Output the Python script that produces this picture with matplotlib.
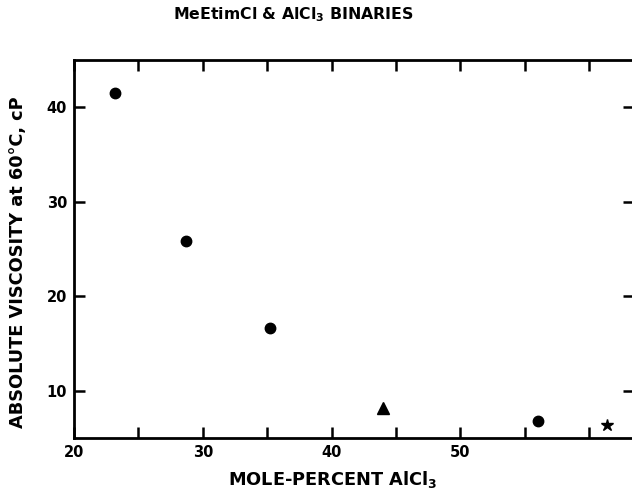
import matplotlib
matplotlib.use("Agg")
import matplotlib.pyplot as plt

# Data
circle_x = [23.2, 28.7, 35.2, 56.0]
circle_y = [41.5, 25.8, 16.6, 6.8]
triangle_x = [44.0]
triangle_y = [8.2]
star_x = [61.4]
star_y = [6.4]

x_major = [20, 25, 30, 35, 40, 45, 50, 55, 60]
x_labels = ["20", "", "30", "", "40", "", "50", "", ""]
y_major = [10, 20, 30, 40]
y_labels = ["10", "20", "30", "40"]

W, H = 632, 490
fig = plt.figure(figsize=(W / 100, H / 100), dpi=100)
left, right, top, bottom = 74, 634, 60, 438
ax = fig.add_axes([left / W, (H - bottom) / H, (right - left) / W, (bottom - top) / H])
ax.set_xlim(20, 20 + (right - 73) / 12.9)
ax.set_ylim(5, 45)

ax.plot(circle_x, circle_y, "o", color="black", markersize=7.5, linestyle="none")
ax.plot(triangle_x, triangle_y, "^", color="black", markersize=9, linestyle="none")
ax.plot(star_x, star_y, "*", color="black", markersize=9, linestyle="none")

ax.set_xticks(x_major)
ax.set_xticklabels(x_labels)
ax.set_yticks(y_major)
ax.set_yticklabels(y_labels)
ax.tick_params(direction="in", length=8, width=1.8, top=True, right=True,
               labelsize=10.5, pad=5)
for lab in ax.get_xticklabels() + ax.get_yticklabels():
    lab.set_fontweight("bold")
for s in ax.spines.values():
    s.set_linewidth(2)

fig.text(293 / W, 1 - 15 / H, r"MeEtimCl & AlCl$_\mathbf{3}$ BINARIES",
         ha="center", va="center", fontsize=11.3, fontweight="bold")
fig.text(333 / W, 1 - 479 / H, r"MOLE-PERCENT AlCl$_\mathbf{3}$",
         ha="center", va="center", fontsize=12.8, fontweight="bold")
fig.text(18 / W, 1 - 262 / H, "ABSOLUTE VISCOSITY at 60\u00b0C, cP",
         ha="center", va="center", rotation=90, fontsize=12.8, fontweight="bold")

fig.savefig("out.png", dpi=100, facecolor="white")
